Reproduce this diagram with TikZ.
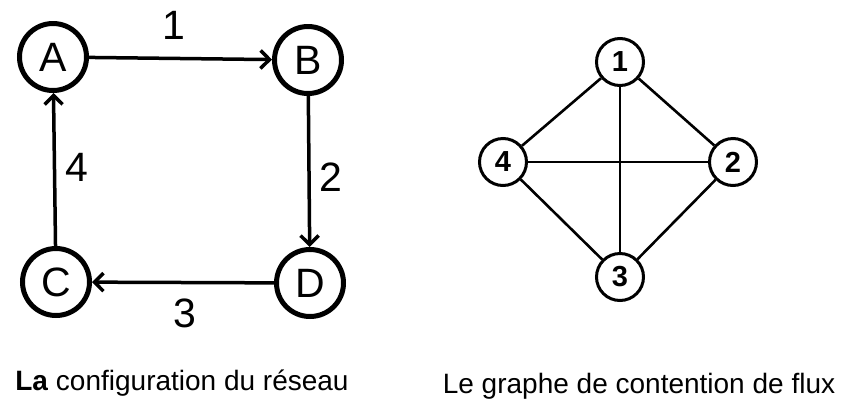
\documentclass[tikz,border=0pt]{standalone}
\usepackage{fontspec}
\setmainfont{Liberation Sans}
\usetikzlibrary{arrows.meta}

\tikzset{
  station/.style={draw, circle, line width=5pt, minimum size=67pt, inner sep=0pt,
    font=\fontsize{41}{48}\selectfont},
  flux/.style={draw, circle, line width=3pt, minimum size=47pt, inner sep=0pt,
    font=\fontsize{29}{34}\selectfont\bfseries},
  link/.style={line width=3.5pt, -{Straight Barb[length=9pt,width=18pt,line width=3.5pt]}},
  conflict/.style={line width=2.6pt},
  lbl/.style={inner sep=0pt, font=\fontsize{41}{48}\selectfont},
  caption/.style={inner sep=0pt, anchor=base, font=\fontsize{28}{34}\selectfont}
}

\begin{document}
\begin{tikzpicture}[x=1pt, y=-1pt]

  % Page frame
  \useasboundingbox (0,0) rectangle (841,400);

  % Draw the network stations
  \node[station] (A) at (53,57) {A};
  \node[station] (B) at (308,60) {B};
  \node[station] (C) at (56,282) {C};
  \node[station] (D) at (310,283) {D};

  % Draw the links
  \draw[link] (A) -- (B);
  \draw[link] (B) -- (D);
  \draw[link] (D) -- (C);
  \draw[link] (C) -- (A);

  % Link numbers
  \node[lbl] (n1) at (174,25) {1};
  \node[lbl] (n2) at (331,177) {2};
  \node[lbl] (n3) at (185,313) {3};
  \node[lbl] (n4) at (77,167) {4};

  % Draw the flows of the contention graph
  \node[flux] (f1) at (620,62) {1};
  \node[flux] (f2) at (733,162) {2};
  \node[flux] (f3) at (620,277) {3};
  \node[flux] (f4) at (503,162) {4};

  % Every flow contends with every other one
  \foreach \i/\j in {1/2,2/3,3/4,4/1,1/3,2/4}
    \draw[conflict] (f\i) -- (f\j);

  % Captions
  \node[caption] (cap1) at (182,390) {\textbf{La} configuration du réseau};
  \node[caption] (cap2) at (639,393) {Le graphe de contention de flux};

\end{tikzpicture}
\end{document}
